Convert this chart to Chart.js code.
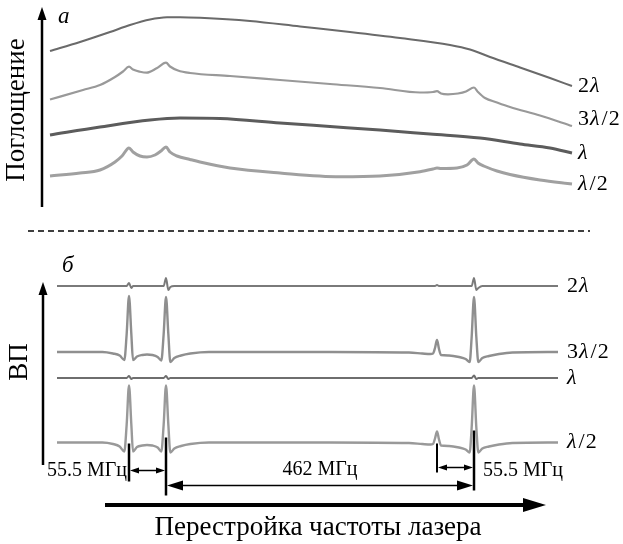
<!DOCTYPE html>
<html>
<head>
<meta charset="utf-8">
<script src="https://cdn.jsdelivr.net/npm/chart.js@4.4.1/dist/chart.umd.min.js"></script>
<style>
  html, body { margin: 0; padding: 0; background: #fff; }
  canvas { display: block; }
</style>
</head>
<body>
<canvas id="chart" width="623" height="544"></canvas>
<script>
// trace names, top to bottom
const traceLabels = ['2λ', '3λ/2', 'λ', 'λ/2'];

// (a) absorption, frequency in MHz from the first resonance, arbitrary units
const abs2Freq = [-118.5, -73.5, -28.5, 1.5, 31.5, 57, 76.5, 106.5, 181.5, 256.5, 331.5, 406.5, 481.5, 511.5, 541.5, 586.5, 631.5, 664.5];
const abs2Val = [17.9, 18.8, 19.8, 20.5, 21.05, 21.27, 21.28, 21.22, 20.9, 20.35, 19.8, 19.2, 18.5, 18.05, 17.3, 16.25, 15.2, 14.4];

const abs32Freq = [-118.5, -69, -43.5, -21, -9, 0, 6, 16.5, 26.5, 41.5, 55.5, 61.5, 73.5, 91.5, 151.5, 226.5, 301.5, 376.5, 436.5, 456, 462, 468, 478.5, 493.5, 505.5, 517.5, 523.5, 534, 552, 571.5, 616.5, 664.5];
const abs32Val = [13.05, 14.0, 14.5, 15.3, 15.85, 16.33, 16.05, 15.83, 15.73, 16.17, 16.73, 16.35, 15.95, 15.7, 15.4, 15.0, 14.6, 14.2, 13.75, 13.8, 13.88, 13.65, 13.57, 13.65, 13.85, 14.25, 13.8, 13.2, 12.75, 12.3, 11.45, 10.4];

const abs1Freq = [-118.5, -43.5, 31.5, 76.5, 136.5, 226.5, 301.5, 376.5, 451.5, 526.5, 586.5, 631.5, 664.5];
const abs1Val = [9.5, 10.3, 11.0, 11.2, 11.15, 10.7, 10.35, 10.0, 9.6, 9.2, 8.6, 8.2, 7.7];

const abs12Freq = [-118.5, -73.5, -43.5, -21, -10.5, 0, 6, 16.5, 27, 39, 48, 55.5, 61.5, 72, 91.5, 106.5, 151.5, 226.5, 316.5, 376.5, 436.5, 456, 462, 468, 492, 507, 517.5, 523.5, 534, 552, 571.5, 616.5, 664.5];
const abs12Val = [5.4, 5.7, 6.0, 6.8, 7.4, 8.2, 7.8, 7.4, 7.3, 7.5, 7.9, 8.3, 7.8, 7.4, 7.05, 6.8, 6.2, 5.7, 5.33, 5.4, 5.83, 6.1, 6.2, 6.15, 6.2, 6.5, 7.1, 6.7, 6.35, 5.9, 5.55, 5.0, 4.6];

// (b) signal, shared frequency grid, each trace relative to its own baseline
const vpFreq = [-108, -40, -24, -14, -7, -3.5, 0, 3.5, 6, 12, 20, 27, 35, 43, 48.5, 52, 55.5, 59, 62, 68, 78, 92, 120, 300, 420, 440, 452, 456, 459, 462, 465, 468, 480, 495, 505, 511, 514, 517.5, 521, 524, 530, 540, 555, 575, 643.5];
const vpBase = [17.4, 10.8, 8.2, 1.75];
const vp2 = [0, 0, 0, 0, 0, 0, 0.3, -0.2, 0, 0, 0, 0, 0, 0, 0, 0, 0.8, -0.4, -0.1, 0, 0, 0, 0, 0, 0, 0, 0, 0, 0, 0.1, 0, 0, 0, 0, 0, 0, 0, 0.8, -0.4, -0.2, 0, 0, 0, 0, 0];
const vp32 = [0, 0, -0.15, -0.35, -0.8, 1.8, 5.6, 1.8, -0.8, -0.45, -0.3, -0.25, -0.3, -0.5, -0.85, 1.8, 5.5, 1.8, -1.0, -0.6, -0.35, -0.15, 0, 0, -0.05, -0.15, -0.2, -0.15, 0.4, 1.2, 0.3, -0.3, -0.35, -0.5, -0.7, -1.0, 1.5, 5.5, 1.5, -1.0, -0.6, -0.4, -0.2, -0.05, 0];
const vp1 = [0, 0, 0, 0, 0, 0, 0.2, -0.1, 0, 0, 0, 0, 0, 0, 0, 0, 0.2, -0.1, 0, 0, 0, 0, 0, 0, 0, 0, 0, 0, 0, 0, 0, 0, 0, 0, 0, 0, 0, 0.25, -0.1, 0, 0, 0, 0, 0, 0];
const vp12 = [0, 0, -0.15, -0.4, -0.9, 1.8, 5.7, 1.8, -0.9, -0.45, -0.3, -0.25, -0.3, -0.5, -0.9, 1.8, 5.7, 1.8, -1.0, -0.6, -0.35, -0.15, 0, 0, -0.05, -0.15, -0.2, -0.15, 0.4, 1.1, 0.3, -0.3, -0.35, -0.5, -0.7, -1.0, 1.5, 5.7, 1.5, -1.0, -0.6, -0.4, -0.2, -0.05, 0];

// resonance positions (MHz) and the spacings between them
const markerFreq = [0, 55.5, 462, 517.5];
const gapLabels = ['55.5 МГц', '462 МГц', '55.5 МГц'];

const SERIF = '"Liberation Serif", "Times New Roman", serif';

function pairs(xs, ys, base) {
  return xs.map((x, i) => ({ x: x, y: ys[i] + (base || 0) }));
}

function line(data, axis, color, width, name) {
  return {
    label: name,
    data: data,
    yAxisID: axis,
    borderColor: color,
    borderWidth: width,
    pointRadius: 0,
    fill: false,
    cubicInterpolationMode: 'monotone',
  };
}

const datasets = [
  line(pairs(abs2Freq, abs2Val), 'yA', '#6a6a6a', 2, traceLabels[0]),
  line(pairs(abs32Freq, abs32Val), 'yA', '#999999', 2.2, traceLabels[1]),
  line(pairs(abs1Freq, abs1Val), 'yA', '#5c5c5c', 3, traceLabels[2]),
  line(pairs(abs12Freq, abs12Val), 'yA', '#a0a0a0', 3, traceLabels[3]),
  line(pairs(vpFreq, vp2, vpBase[0]), 'yB', '#7a7a7a', 2, traceLabels[0]),
  line(pairs(vpFreq, vp32, vpBase[1]), 'yB', '#8f8f8f', 2.4, traceLabels[1]),
  line(pairs(vpFreq, vp1, vpBase[2]), 'yB', '#6e6e6e', 2, traceLabels[2]),
  line(pairs(vpFreq, vp12, vpBase[3]), 'yB', '#999999', 2.4, traceLabels[3]),
];

// digits upright, lambda italic, like the math labels in the figure
function mathText(ctx, text, x, y, size) {
  ctx.textBaseline = 'middle';
  ctx.textAlign = 'left';
  for (const ch of text) {
    ctx.font = (ch === 'λ' ? 'italic ' : '') + size + 'px ' + SERIF;
    ctx.fillText(ch, x, y);
    x += ctx.measureText(ch).width + (ch === 'λ' ? 2 : 1);
  }
}

function head(ctx, x, y, dx, dy, len, half) {
  ctx.beginPath();
  ctx.moveTo(x, y);
  ctx.lineTo(x - dx * len - dy * half, y - dy * len + dx * half);
  ctx.lineTo(x - dx * len + dy * half, y - dy * len - dx * half);
  ctx.closePath();
  ctx.fill();
}

function hArrow(ctx, x1, x2, y, len, half, lw) {
  ctx.lineWidth = lw;
  ctx.beginPath();
  ctx.moveTo(x1 + len / 2, y);
  ctx.lineTo(x2 - len / 2, y);
  ctx.stroke();
  head(ctx, x1, y, -1, 0, len, half);
  head(ctx, x2, y, 1, 0, len, half);
}

function vLine(ctx, x, y1, y2, lw) {
  ctx.lineWidth = lw;
  ctx.beginPath();
  ctx.moveTo(x, y1);
  ctx.lineTo(x, y2);
  ctx.stroke();
}

const decor = {
  id: 'decor',
  afterDatasetsDraw(chart) {
    const ctx = chart.ctx;
    const xs = chart.scales.x, ya = chart.scales.yA, yb = chart.scales.yB;
    ctx.save();
    ctx.fillStyle = '#000';
    ctx.strokeStyle = '#000';

    // vertical axis arrows
    vLine(ctx, 42, 207, 18, 2.5);
    head(ctx, 42, 7, 0, -1, 13, 4.5);
    vLine(ctx, 43, 465, 292, 2.5);
    head(ctx, 43, 282, 0, -1, 13, 4.5);

    // axis titles
    ctx.font = '27px ' + SERIF;
    ctx.textAlign = 'center';
    ctx.textBaseline = 'middle';
    ctx.save();
    ctx.translate(17, 110);
    ctx.rotate(-Math.PI / 2);
    ctx.fillText('Поглощение', 0, 0);
    ctx.restore();
    ctx.save();
    ctx.translate(20, 362);
    ctx.rotate(-Math.PI / 2);
    ctx.fillText('ВП', 0, 0);
    ctx.restore();

    // panel letters
    ctx.font = 'italic 23px ' + SERIF;
    ctx.textAlign = 'left';
    ctx.fillText('a', 58, 17);
    ctx.fillText('б', 62, 266);

    // separator
    ctx.lineWidth = 1.5;
    ctx.setLineDash([6, 4]);
    ctx.beginPath();
    ctx.moveTo(28, 231);
    ctx.lineTo(590, 231);
    ctx.stroke();
    ctx.setLineDash([]);

    // trace labels at the right end of every trace
    chart.data.datasets.forEach((ds, i) => {
      const last = ds.data[ds.data.length - 1];
      const top = ds.yAxisID === 'yA';
      const x = xs.getPixelForValue(last.x) + (top ? 6 : 9);
      let y = (top ? ya : yb).getPixelForValue(last.y);
      if (top && i === 1) y -= 7;
      mathText(ctx, ds.label, x, y, 22);
    });

    // resonance markers below the λ/2 trace
    const base = yb.getPixelForValue(vpBase[3]);
    const m = markerFreq.map(f => xs.getPixelForValue(f));
    vLine(ctx, m[0], base + 1, base + 39, 2.5);
    vLine(ctx, m[1], base - 5, base + 53, 2.5);
    vLine(ctx, m[2], base + 1, base + 30, 2);
    vLine(ctx, m[3], base - 12, base + 48, 2.5);

    hArrow(ctx, m[0] + 1, m[1] - 1, base + 28, 9, 3, 1.5);
    hArrow(ctx, m[2] + 1, m[3] - 1, base + 25, 9, 3, 1.5);
    hArrow(ctx, m[1] + 1, m[3] - 1, base + 43, 16, 5, 1.5);

    ctx.font = '20px ' + SERIF;
    ctx.textBaseline = 'middle';
    ctx.textAlign = 'right';
    ctx.fillText(gapLabels[0], m[0] - 2, base + 28);
    ctx.textAlign = 'center';
    ctx.fillText(gapLabels[1], (m[1] + m[3]) / 2, base + 27);
    ctx.textAlign = 'left';
    ctx.fillText(gapLabels[2], m[3] + 9, base + 28);

    // frequency sweep arrow
    ctx.lineWidth = 4;
    ctx.beginPath();
    ctx.moveTo(105, 505);
    ctx.lineTo(528, 505);
    ctx.stroke();
    head(ctx, 546, 505, 1, 0, 23, 7);

    ctx.font = '27px ' + SERIF;
    ctx.textAlign = 'center';
    ctx.fillText('Перестройка частоты лазера', 318, 528);
    ctx.restore();
  }
};

new Chart(document.getElementById('chart'), {
  type: 'line',
  data: { datasets: datasets },
  options: {
    responsive: false,
    animation: false,
    events: [],
    layout: { padding: 0 },
    plugins: { legend: { display: false }, tooltip: { enabled: false } },
    scales: {
      x: { type: 'linear', display: false, min: -193.5, max: 741 },
      yA: { type: 'linear', display: false, position: 'left', min: -31.4, max: 23 },
      yB: { type: 'linear', display: false, position: 'left', min: -8.4, max: 46 },
    },
  },
  plugins: [decor],
});
</script>
</body>
</html>
